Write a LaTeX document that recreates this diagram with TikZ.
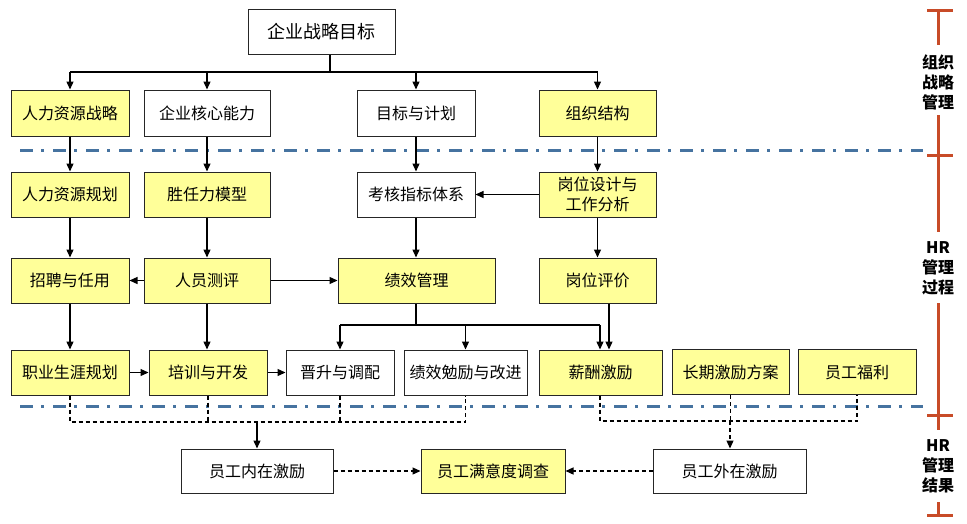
\documentclass[tikz,border=0pt]{standalone}
\usepackage{fontspec}
\setmainfont{Noto Sans CJK SC}
\usepackage{xcolor}
\usetikzlibrary{arrows.meta}

\definecolor{boxyellow}{RGB}{255,255,153}
\definecolor{sepblue}{RGB}{70,115,160}
\definecolor{scalered}{RGB}{200,75,40}

\begin{document}
\begin{tikzpicture}[x=1pt,y=-1pt,
    box/.style={draw=black!85,line width=1pt,fill=white,inner sep=0pt,
        minimum height=45pt,align=center,font=\fontsize{16}{20}\selectfont},
    ybox/.style={box,fill=boxyellow},
    arr/.style={line width=1.3pt,-{Triangle[length=8pt,width=7pt]}},
    link/.style={line width=1.3pt},
    dlink/.style={line width=1.2pt,dash pattern=on 4pt off 3pt},
    sep/.style={sepblue,line width=3pt,dash pattern=on 13pt off 8pt on 3pt off 9pt},
    scale line/.style={scalered,line width=3pt},
    scale text/.style={align=center,font=\fontsize{16}{20}\selectfont\bfseries}]
    \useasboundingbox (0,0) rectangle (967,523);

    % Separators
    \draw[sep] (20,150) -- (923,150);
    \draw[sep] (20,406) -- (923,406);

    % Top
    \node[box,minimum width=147pt,font=\fontsize{18}{20}\selectfont] (top) at (321.5,31.5) {企业战略目标};

    % Row 1
    \node[ybox,minimum width=118pt,minimum height=46pt] (hrs) at (70,113) {人力资源战略};
    \node[box,minimum width=126pt,minimum height=46pt] (core) at (207,113) {企业核心能力};
    \node[box,minimum width=118pt,minimum height=46pt] (goal) at (416,113) {目标与计划};
    \node[ybox,minimum width=117pt,minimum height=46pt] (org) at (597.5,113) {组织结构};

    % Row 2
    \node[ybox,minimum width=118pt] (hrp) at (70,194.5) {人力资源规划};
    \node[ybox,minimum width=126pt] (comp) at (207,194.5) {胜任力模型};
    \node[box,minimum width=118pt] (kpi) at (416,194.5) {考核指标体系};
    \node[ybox,minimum width=117pt] (job) at (597.5,194.5) {岗位设计与\\工作分析};

    % Row 3
    \node[ybox,minimum width=118pt] (recr) at (70,280.5) {招聘与任用};
    \node[ybox,minimum width=126pt] (assess) at (207,280.5) {人员测评};
    \node[ybox,minimum width=157pt] (perf) at (416.5,280.5) {绩效管理};
    \node[ybox,minimum width=117pt] (jeval) at (597.5,280.5) {岗位评价};

    % Row 4
    \node[ybox,minimum width=118pt] (career) at (70,372.5) {职业生涯规划};
    \node[ybox,minimum width=118pt] (train) at (208,372.5) {培训与开发};
    \node[box,minimum width=108pt] (promo) at (340,372.5) {晋升与调配};
    \node[box,minimum width=123pt] (improve) at (465.5,372.5) {绩效勉励与改进};
    \node[ybox,minimum width=123pt] (pay) at (600.5,372.5) {薪酬激励};
    \node[ybox,minimum width=117pt] (longterm) at (730.5,372) {长期激励方案};
    \node[ybox,minimum width=118pt] (welfare) at (857,372) {员工福利};

    % Row 5
    \node[box,minimum width=152pt,minimum height=44pt] (intr) at (257,471) {员工内在激励};
    \node[ybox,minimum width=144pt,minimum height=44pt] (satis) at (493,471) {员工满意度调查};
    \node[box,minimum width=153pt,minimum height=44pt] (extr) at (729.5,471) {员工外在激励};

    % Top bus
    \coordinate (bus) at (330,72);
    \draw[link] (top.south -| bus) -- (bus);
    \draw[link] (bus -| hrs) -- (bus -| org);
    \foreach \n in {hrs,core,goal,org}
        \draw[arr] (bus -| \n) -- (\n.north);

    % Vertical flows
    \draw[arr] (hrs) -- (hrp);
    \draw[arr] (core) -- (comp);
    \draw[arr] (goal) -- (kpi);
    \draw[arr] (org) -- (job);
    \draw[arr] (hrp) -- (recr);
    \draw[arr] (comp) -- (assess);
    \draw[arr] (kpi.south) -- (kpi.south |- perf.north);
    \draw[arr] (job) -- (jeval);
    \draw[arr] (recr) -- (career);
    \draw[arr] (assess.south) -- (assess.south |- train.north);
    \draw[arr] (job.west) -- (kpi.east);
    \draw[arr] (assess.west) -- (recr.east);
    \draw[arr] (assess.east) -- (perf.west);
    \draw[arr] (career.east) -- (train.west);
    \draw[arr] (train.east) -- (promo.west);

    % Performance bus
    \coordinate (pbus) at (416,325);
    \coordinate (paytop) at (600,325);
    \draw[link] (perf.south -| pbus) -- (pbus);
    \draw[link] (pbus -| promo) -- (paytop);
    \draw[arr] (pbus -| promo) -- (promo.north);
    \draw[arr] (pbus -| improve) -- (improve.north);
    \draw[arr] (paytop) -- (paytop |- pay.north);
    \coordinate (jp) at (609,0);
    \draw[arr] (jeval.south -| jp) -- (pay.north -| jp);

    % Intrinsic bus
    \coordinate (ibus) at (257,422);
    \draw[dlink] (career.south) -- (career.south |- ibus) -- (improve.south |- ibus) -- (improve.south);
    \draw[dlink] (train.south) -- (train.south |- ibus);
    \draw[dlink] (promo.south) -- (promo.south |- ibus);
    \draw[arr] (ibus) -- (intr.north);

    % Extrinsic bus
    \coordinate (ebus) at (730,421);
    \draw[dlink] (pay.south -| paytop) -- (paytop |- ebus) -- (welfare.south |- ebus) -- (welfare.south);
    \draw[dlink] (longterm.south) -- (longterm.south |- ebus);
    \draw[arr,dlink] (ebus) -- (ebus |- extr.north);

    % Results
    \draw[arr,dlink] (intr.east) -- (satis.west);
    \draw[arr,dlink] (extr.west) -- (satis.east);

    % Scale
    \draw[scale line] (927,10) -- (953,10);
    \draw[scale line] (938,10) -- (938,45);
    \node[scale text] (lvl1) at (938,82) {组织\\战略\\管理};
    \draw[scale line] (938,115) -- (938,232);
    \draw[scale line] (927,155) -- (953,155);
    \node[scale text] (lvl2) at (938,268) {HR\\管理\\过程};
    \draw[scale line] (938,303) -- (938,430);
    \draw[scale line] (927,415) -- (953,415);
    \node[scale text] (lvl3) at (938,466) {HR\\管理\\结果};
    \draw[scale line] (938,502) -- (938,515);
    \draw[scale line] (927,515) -- (953,515);
\end{tikzpicture}
\end{document}
